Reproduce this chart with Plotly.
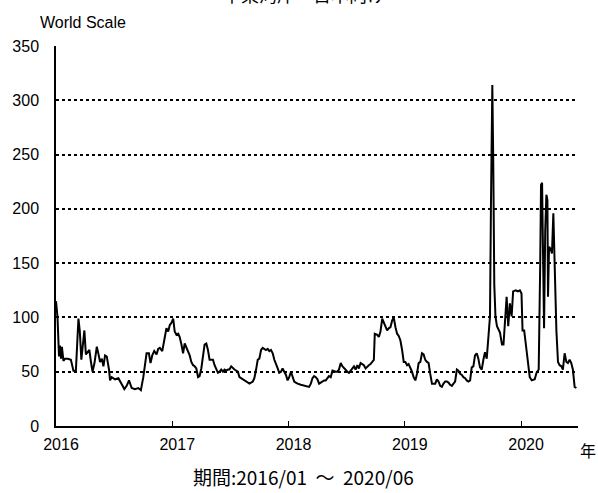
import plotly.graph_objects as go

# time as decimal years, values in World Scale points
t = [2016.000, 2016.013, 2016.026, 2016.034, 2016.043, 2016.051, 2016.064, 2016.077, 2016.103, 2016.128,
     2016.150, 2016.171, 2016.193, 2016.205, 2016.218, 2016.231, 2016.244, 2016.257, 2016.274, 2016.287,
     2016.302, 2016.314, 2016.331, 2016.351, 2016.366, 2016.379, 2016.394, 2016.408, 2016.422, 2016.437,
     2016.456, 2016.465, 2016.479, 2016.508, 2016.537, 2016.565, 2016.588, 2016.608, 2016.628, 2016.651,
     2016.679, 2016.708, 2016.730, 2016.751, 2016.765, 2016.779, 2016.799, 2016.813, 2016.828, 2016.845,
     2016.865, 2016.879, 2016.893, 2016.914, 2016.931, 2016.950, 2016.965, 2016.979, 2016.993, 2017.008,
     2017.021, 2017.036, 2017.051, 2017.064, 2017.079, 2017.093, 2017.107, 2017.122, 2017.136, 2017.150,
     2017.164, 2017.179, 2017.193, 2017.207, 2017.222, 2017.235, 2017.250, 2017.265, 2017.278, 2017.293,
     2017.307, 2017.321, 2017.336, 2017.350, 2017.364, 2017.378, 2017.393, 2017.407, 2017.421, 2017.436,
     2017.450, 2017.464, 2017.479, 2017.492, 2017.507, 2017.535, 2017.564, 2017.578, 2017.607, 2017.635,
     2017.664, 2017.693, 2017.706, 2017.721, 2017.735, 2017.749, 2017.764, 2017.778, 2017.792, 2017.806,
     2017.821, 2017.835, 2017.849, 2017.864, 2017.878, 2017.892, 2017.907, 2017.920, 2017.935, 2017.949,
     2017.963, 2017.978, 2017.992, 2018.006, 2018.021, 2018.035, 2018.049, 2018.063, 2018.078, 2018.106,
     2018.134, 2018.163, 2018.177, 2018.192, 2018.206, 2018.220, 2018.235, 2018.249, 2018.263, 2018.277,
     2018.292, 2018.306, 2018.320, 2018.335, 2018.348, 2018.363, 2018.378, 2018.406, 2018.420, 2018.434,
     2018.449, 2018.463, 2018.477, 2018.491, 2018.506, 2018.520, 2018.534, 2018.549, 2018.563, 2018.577,
     2018.592, 2018.605, 2018.620, 2018.634, 2018.648, 2018.663, 2018.677, 2018.691, 2018.705, 2018.720,
     2018.734, 2018.742, 2018.763, 2018.777, 2018.791, 2018.806, 2018.819, 2018.834, 2018.848, 2018.862,
     2018.877, 2018.891, 2018.905, 2018.920, 2018.934, 2018.948, 2018.962, 2018.977, 2018.991, 2019.005,
     2019.020, 2019.033, 2019.048, 2019.062, 2019.076, 2019.091, 2019.105, 2019.119, 2019.134, 2019.148,
     2019.162, 2019.176, 2019.191, 2019.205, 2019.219, 2019.234, 2019.247, 2019.262, 2019.276, 2019.290,
     2019.305, 2019.319, 2019.333, 2019.348, 2019.362, 2019.376, 2019.390, 2019.405, 2019.419, 2019.433,
     2019.448, 2019.462, 2019.476, 2019.491, 2019.504, 2019.519, 2019.533, 2019.547, 2019.562, 2019.576,
     2019.590, 2019.604, 2019.619, 2019.633, 2019.647, 2019.662, 2019.676, 2019.690, 2019.705, 2019.718,
     2019.733, 2019.741, 2019.753, 2019.761, 2019.770, 2019.780, 2019.793, 2019.819, 2019.836, 2019.849,
     2019.861, 2019.876, 2019.890, 2019.904, 2019.919, 2019.932, 2019.955, 2019.973, 2019.990, 2020.004,
     2020.013, 2020.027, 2020.047, 2020.061, 2020.075, 2020.092, 2020.118, 2020.133, 2020.152, 2020.165,
     2020.172, 2020.181, 2020.189, 2020.198, 2020.208, 2020.218, 2020.227, 2020.232, 2020.241, 2020.255,
     2020.266, 2020.278, 2020.289, 2020.304, 2020.318, 2020.332, 2020.347, 2020.360, 2020.375, 2020.390,
     2020.403, 2020.418, 2020.432, 2020.446, 2020.461, 2020.476]

ws = [115, 100, 64, 74, 62, 73, 60, 62, 62, 61,
      51, 51, 99, 87, 61, 75, 88, 66, 68, 70,
      58, 50, 58, 73, 66, 59, 62, 55, 65, 64,
      52, 42, 45, 43, 44, 38, 34, 37, 42, 35,
      34, 35, 33, 45, 59, 67, 67, 58, 65, 69,
      66, 71, 72, 69, 79, 90, 87, 93, 95, 99,
      87, 84, 85, 82, 75, 67, 76, 72, 70, 65,
      59, 56, 55, 53, 45, 46, 53, 67, 75, 76,
      70, 61, 61, 61, 56, 53, 49, 50, 52, 50,
      52, 51, 52, 52, 55, 52, 50, 45, 43, 41,
      39, 41, 44, 52, 61, 62, 70, 72, 71, 70,
      71, 69, 70, 67, 61, 56, 53, 49, 50, 53,
      50, 47, 42, 45, 50, 45, 41, 40, 39, 38,
      37, 36, 36, 39, 44, 46, 45, 43, 39, 40,
      41, 42, 42, 44, 46, 45, 51, 50, 50, 52,
      58, 55, 53, 52, 50, 49, 51, 53, 55, 52,
      56, 53, 58, 57, 56, 53, 55, 56, 57, 59,
      61, 85, 84, 82, 87, 99, 96, 91, 88, 90,
      91, 97, 100, 91, 85, 83, 79, 70, 59, 59,
      56, 57, 54, 50, 45, 42, 48, 58, 59, 67,
      66, 61, 59, 58, 48, 39, 39, 39, 43, 41,
      37, 36, 39, 41, 41, 40, 38, 37, 39, 41,
      52, 51, 48, 47, 45, 44, 42, 41, 42, 54,
      55, 65, 67, 62, 54, 52, 61, 68, 62, 82,
      101, 200, 314, 245, 130, 101, 92, 86, 75, 75,
      95, 119, 92, 113, 101, 124, 125, 124, 125, 122,
      88, 88, 70, 59, 45, 42, 43, 49, 52, 150,
      222, 224, 150, 90, 180, 213, 208, 119, 165, 163,
      159, 196, 150, 88, 59, 56, 55, 52, 67, 59,
      58, 61, 58, 52, 36, 35]

years = [2016, 2017, 2018, 2019, 2020]
year_labels = ["2016", "2017", "2018", "2019", "2020"]
y_ticks = [0, 50, 100, 150, 200, 250, 300, 350]

FONT = "Liberation Sans, Arial, sans-serif"
JP = "Noto Sans CJK JP, sans-serif"

fig = go.Figure()
fig.add_trace(go.Scatter(x=t, y=ws, mode="lines",
                         line=dict(color="black", width=2), showlegend=False,
                         hoverinfo="skip"))

fig.update_layout(
    width=598, height=493,
    margin=dict(l=54, r=20, t=46, b=67),
    paper_bgcolor="white", plot_bgcolor="white",
    font=dict(family=FONT, size=16, color="black"),
    xaxis=dict(range=[2016, 2020.49], tickvals=years, ticktext=year_labels,
               showgrid=False, zeroline=False, showline=True, linecolor="black",
               linewidth=1.5, ticks="inside", ticklen=5, tickcolor="black",
               tickfont=dict(family=FONT, size=16), ticklabelshift=5,
               ticklabelstandoff=3),
    yaxis=dict(range=[0, 350], tickvals=y_ticks, showgrid=True, gridcolor="black",
               griddash="dot", gridwidth=1.5, zeroline=False, showline=True,
               linecolor="black", linewidth=1.5, ticks="",
               tickfont=dict(family=FONT, size=16), ticklabelstandoff=12),
)

fig.add_annotation(text="World Scale", xref="paper", yref="paper", x=-0.035, y=1.035,
                   xanchor="left", yanchor="bottom", showarrow=False,
                   font=dict(family=FONT, size=16))
fig.add_annotation(text="年", xref="paper", yref="paper", x=1.0, y=-0.027,
                   xanchor="left", yanchor="top", showarrow=False,
                   font=dict(family=JP, size=16))
fig.add_annotation(text="期間:2016/01 &nbsp;～&nbsp; 2020/06", xref="paper", yref="paper",
                   x=0.475, y=-0.092, xanchor="center", yanchor="top", showarrow=False,
                   font=dict(family=JP, size=19))
fig.add_annotation(text="中東湾岸～日本向け", xref="paper", yref="paper", x=0.475, y=1.097,
                   xanchor="center", yanchor="bottom", showarrow=False,
                   font=dict(family=JP, size=18))

fig.write_html("out.html", config={"displayModeBar": False},
               post_script="document.body.style.margin='0';")
